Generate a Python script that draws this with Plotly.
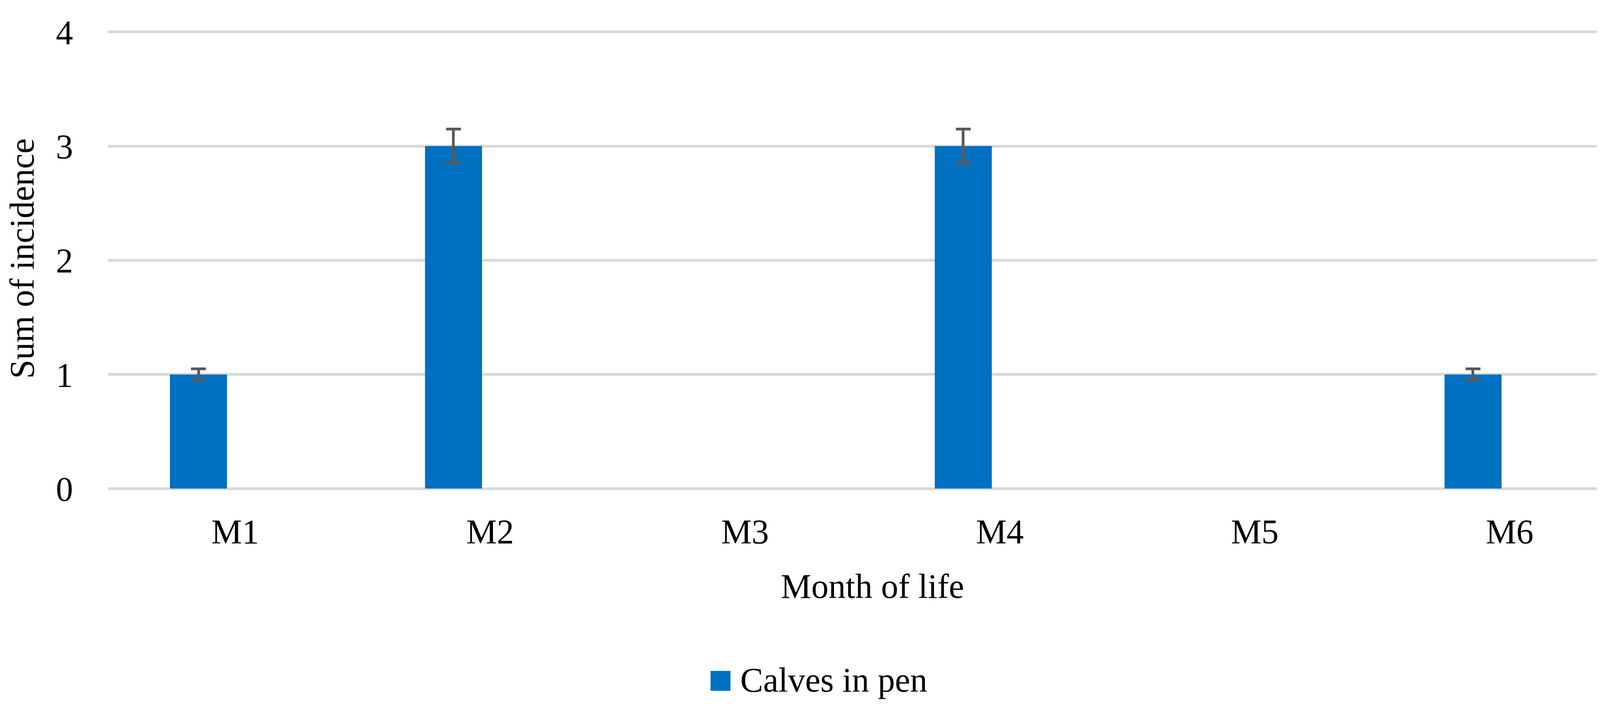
import plotly.graph_objects as go

# ---- data ----
months = ["M1", "M2", "M3", "M4", "M5", "M6"]
incidence = [1, 3, 0, 3, 0, 1]
error_percent = 5  # Excel-style percentage error bars
series_name = "Calves in pen"
y_ticks = [0, 1, 2, 3, 4]

# error values (percentage of each bar); no bar -> no error bar drawn
err = [v * error_percent / 100 if v > 0 else "NaN" for v in incidence]

W, H = 4204, 1813
L, R, T, B = 268, 21, 65, 570
FONT = "Liberation Serif"
FS = 88
BLUE = "#0070C0"
Y_TOP = 4.03  # tiny headroom so the gridline at 4 is drawn

fig = go.Figure()
fig.add_trace(go.Bar(
    x=months, y=incidence, name=series_name,
    marker=dict(color=BLUE, line=dict(width=0)),
    width=0.224, offset=-0.256,
    error_y=dict(type="data", array=err, visible=True,
                 color="#595959", thickness=7, width=19),
    showlegend=False,
))

plot_w = W - L - R
plot_h = H - T - B

def px_x(x):
    return (x - L) / plot_w

def px_y(y):
    return (H - B - y) / plot_h

# legend (swatch + label)
fig.add_shape(type="rect", xref="paper", yref="paper",
              x0=px_x(1811), x1=px_x(1862), y0=px_y(1761), y1=px_y(1710),
              fillcolor=BLUE, line=dict(width=0))
fig.add_annotation(xref="paper", yref="paper", x=px_x(1885), y=px_y(1733),
                   text=series_name, showarrow=False, xanchor="left", yanchor="middle",
                   font=dict(family=FONT, size=FS, color="#000000"))

fig.update_layout(
    width=W, height=H,
    margin=dict(l=L, r=R, t=T, b=B, pad=0),
    paper_bgcolor="white", plot_bgcolor="white",
    font=dict(family=FONT, size=FS, color="#000000"),
    bargap=0,
)
fig.update_xaxes(
    type="category", categoryorder="array", categoryarray=months,
    showgrid=False, showline=False, zeroline=False, ticks="",
    ticklabelstandoff=51,
    tickfont=dict(family=FONT, size=FS, color="#000000"),
    title=dict(text="Month of life", standoff=60,
               font=dict(family=FONT, size=FS, color="#000000")),
)
fig.update_yaxes(
    range=[0, Y_TOP], tickvals=y_ticks, ticktext=[str(t) for t in y_ticks],
    showgrid=True, gridcolor="#D9D9D9", gridwidth=7,
    zeroline=True, zerolinecolor="#D9D9D9", zerolinewidth=7,
    showline=False, ticks="", ticklabelstandoff=88,
    tickfont=dict(family=FONT, size=FS, color="#000000"),
    title=dict(text="Sum of incidence", standoff=30,
               font=dict(family=FONT, size=FS, color="#000000")),
)

fig.write_html("out.html")
